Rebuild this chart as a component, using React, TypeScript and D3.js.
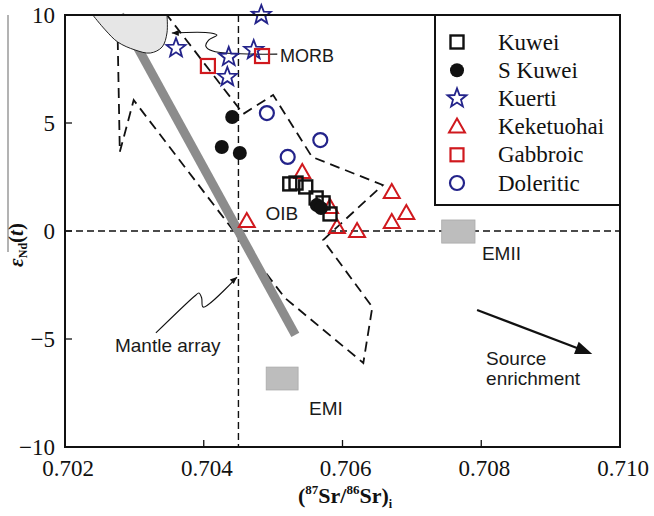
import React from "react";
import * as d3 from "d3";

// ---------- data ----------
const xDomain = [0.702, 0.71];
const yDomain = [-10, 10];
const xTicks = [0.702, 0.704, 0.706, 0.708, 0.71];
const xTickLabels = ["0.702", "0.704", "0.706", "0.708", "0.710"];
const yTicks = [10, 5, 0, -5, -10];
const yTickLabels = ["10", "5", "0", "\u22125", "\u221210"];

const kuwei: [number, number][] = [
  [0.70524, 2.18], [0.70533, 2.22], [0.70547, 2.04], [0.70562, 1.53], [0.70572, 1.3], [0.70582, 0.79],
];
const sKuwei: [number, number][] = [
  [0.70441, 5.28], [0.70426, 3.89], [0.70452, 3.61], [0.70563, 1.2], [0.70569, 1.06],
];
const kuerti: [number, number][] = [
  [0.7036, 8.47], [0.70436, 8.06], [0.70434, 7.13], [0.70483, 10.0], [0.70472, 8.38],
];
const keketuohai: [number, number][] = [
  [0.70462, 0.42], [0.70542, 2.69], [0.70582, 1.06], [0.70592, 0.14], [0.70621, -0.05],
  [0.70671, 1.76], [0.70692, 0.79], [0.70671, 0.37],
];
const gabbroic: [number, number][] = [[0.70406, 7.64], [0.70484, 8.1]];
const doleritic: [number, number][] = [[0.70491, 5.46], [0.70521, 3.43], [0.70568, 4.21]];

const legendNames = ["Kuwei", "S Kuwei", "Kuerti", "Keketuohai", "Gabbroic", "Doleritic"];

// reference lines / fields (data units)
const refSr = 0.7045;
const refEps = 0;
const mantleArray: [number, number][] = [[0.70279, 10.0], [0.70532, -4.81]];
const morbField: [number, number][] = [
  [0.7024, 10.0], [0.70258, 9.31], [0.70276, 8.75], [0.70301, 8.38], [0.70323, 8.24],
  [0.7034, 8.52], [0.70347, 9.17], [0.70347, 10.0],
];
const envelope: [number, number][] = [
  [0.70276, 8.84], [0.70279, 3.66], [0.70299, 6.06], [0.70517, -3.1], [0.7063, -6.11],
  [0.70643, -3.52], [0.70572, -0.42], [0.70658, 2.13], [0.70556, 3.43], [0.705, 6.3],
  [0.70457, 5.42], [0.70347, 10.0],
];
const emI = { x0: 0.7049, x1: 0.70536, y0: -6.3, y1: -7.36 };
const emII = { x0: 0.70743, x1: 0.70791, y0: 0.51, y1: -0.56 };
const morbLeader: [number, number][] = [
  [0.70506, 8.19], [0.70413, 8.33], [0.70403, 8.56], [0.70407, 8.84], [0.70419, 9.07],
  [0.7041, 9.17], [0.70354, 9.17],
];
const mantleLeader: [number, number][] = [
  [0.70331, -4.72], [0.70387, -3.01], [0.70393, -2.87], [0.70397, -3.1], [0.70399, -3.52],
  [0.70448, -2.13],
];
const sourceArrow: [number, number][] = [[0.70794, -3.66], [0.7096, -5.69]];

// ---------- layout ----------
const W = 654;
const H = 516;
const x = d3.scaleLinear().domain(xDomain).range([65, 620]);
const y = d3.scaleLinear().domain(yDomain).range([447, 15]);

const NAVY = "#23238a";
const RED = "#d0191e";
const SERIF = "'Liberation Serif', 'Times New Roman', serif";
const SANS = "'Liberation Sans', Arial, sans-serif";

function starPath(R: number, r: number) {
  const pts: [number, number][] = [];
  for (let i = 0; i < 10; i++) {
    const a = -Math.PI / 2 + (i * Math.PI) / 5;
    const rr = i % 2 === 0 ? R : r;
    pts.push([rr * Math.cos(a), rr * Math.sin(a)]);
  }
  return "M" + pts.map((p) => p.join(",")).join("L") + "Z";
}
const STAR = starPath(10, 4.2);
const TRI = "M0,-9L8,5L-8,5Z";

function arrowHead(p0: [number, number], p1: [number, number], len: number, half: number) {
  const dx = p1[0] - p0[0];
  const dy = p1[1] - p0[1];
  const L = Math.hypot(dx, dy);
  const ux = dx / L, uy = dy / L;
  const bx = p1[0] - ux * len, by = p1[1] - uy * len;
  return `M${p1[0]},${p1[1]}L${bx - uy * half},${by + ux * half}L${bx + uy * half},${by - ux * half}Z`;
}

const toPx = (d: [number, number]): [number, number] => [x(d[0]), y(d[1])];

export default function App() {
  const line = d3.line<[number, number]>().x((d) => x(d[0])).y((d) => y(d[1]));
  const curved = d3
    .line<[number, number]>()
    .x((d) => x(d[0]))
    .y((d) => y(d[1]))
    .curve(d3.curveCatmullRom);

  const ml = morbLeader.map(toPx);
  const mtl = mantleLeader.map(toPx);
  const sa = sourceArrow.map(toPx);

  const legendX = 435, legendY = 15, legendW = 185, legendH = 190;
  const rowY = (i: number) => 42 + i * 28.2;

  const legendMarker = (i: number) => {
    const cx = 457, cy = rowY(i);
    switch (i) {
      case 0:
        return <rect x={cx - 6.5} y={cy - 6.5} width={13} height={13} fill="none" stroke="#111" strokeWidth={2.4} />;
      case 1:
        return <circle cx={cx} cy={cy} r={7} fill="#111" />;
      case 2:
        return <path d={STAR} transform={`translate(${cx},${cy})`} fill="none" stroke={NAVY} strokeWidth={1.8} />;
      case 3:
        return <path d={TRI} transform={`translate(${cx},${cy + 1})`} fill="none" stroke={RED} strokeWidth={2} />;
      case 4:
        return <rect x={cx - 6.5} y={cy - 6.5} width={13} height={13} fill="none" stroke={RED} strokeWidth={2.2} />;
      default:
        return <circle cx={cx} cy={cy} r={7} fill="none" stroke={NAVY} strokeWidth={2.2} />;
    }
  };

  return (
    <svg width={W} height={H} style={{ position: "absolute", left: 0, top: 0, background: "#fff" }}>
      {/* stray gray line at far left */}
      <line x1={8} x2={8} y1={15} y2={252} stroke="#9a9a9a" strokeWidth={1.5} />

      {/* reference dashed lines */}
      <line x1={x(xDomain[0])} x2={x(xDomain[1])} y1={y(refEps)} y2={y(refEps)} stroke="#111" strokeWidth={1.4} strokeDasharray="7,4" />
      <line x1={x(refSr)} x2={x(refSr)} y1={y(yDomain[1])} y2={y(yDomain[0])} stroke="#111" strokeWidth={1.4} strokeDasharray="7,4" />

      {/* envelope */}
      <path d={line(envelope) || ""} fill="none" stroke="#111" strokeWidth={1.8} strokeDasharray="10,6" />

      {/* mantle array band */}
      <path d={line(mantleArray) || ""} stroke="#8c8c8c" strokeWidth={9} fill="none" />

      {/* MORB field */}
      <path d={(curved(morbField) || "") + "Z"} fill="#e6e6e6" stroke="#222" strokeWidth={1} />
      <line x1={x(morbField[0][0])} x2={x(morbField[morbField.length - 1][0])} y1={y(10)} y2={y(10)} stroke="#e6e6e6" strokeWidth={1} />

      {/* EM boxes */}
      <rect x={x(emI.x0)} y={y(emI.y0)} width={x(emI.x1) - x(emI.x0)} height={y(emI.y1) - y(emI.y0)} fill="#bdbdbd" stroke="#aaa" strokeWidth={0.8} />
      <rect x={x(emII.x0)} y={y(emII.y0)} width={x(emII.x1) - x(emII.x0)} height={y(emII.y1) - y(emII.y0)} fill="#bdbdbd" stroke="#aaa" strokeWidth={0.8} />

      {/* leaders */}
      <path d={curved(morbLeader) || ""} fill="none" stroke="#111" strokeWidth={1.1} />
      <path d={arrowHead(ml[ml.length - 2], ml[ml.length - 1], 7, 3)} fill="#111" />
      <path d={curved(mantleLeader) || ""} fill="none" stroke="#111" strokeWidth={1.1} />
      <path d={arrowHead(mtl[mtl.length - 2], mtl[mtl.length - 1], 7, 3)} fill="#111" />
      <line x1={sa[0][0]} y1={sa[0][1]} x2={sa[1][0] - 10} y2={sa[1][1] - 4} stroke="#111" strokeWidth={2.2} />
      <path d={arrowHead(sa[0], sa[1], 17, 6.5)} fill="#111" />

      {/* annotation text */}
      <g fontFamily={SANS} fill="#1a1a1a" fontSize={19}>
        <text x={x(0.7051)} y={y(7.82)} fontSize={18}>MORB</text>
        <text x={x(0.70489)} y={y(0.5)}>OIB</text>
        <text x={x(0.70272)} y={y(-5.6)}>Mantle array</text>
        <text x={x(0.70576)} y={y(-8.5)} textAnchor="middle">EMI</text>
        <text x={x(0.70801)} y={y(-1.34)}>EMII</text>
        <text x={x(0.70807)} y={y(-6.2)}>Source</text>
        <text x={x(0.70807)} y={y(-7.13)}>enrichment</text>
      </g>

      {/* data points */}
      <g>
        {keketuohai.map((d, i) => (
          <path key={"t" + i} d={TRI} transform={`translate(${x(d[0])},${y(d[1])})`} fill="none" stroke={RED} strokeWidth={2} />
        ))}
        {doleritic.map((d, i) => (
          <circle key={"c" + i} cx={x(d[0])} cy={y(d[1])} r={7} fill="none" stroke={NAVY} strokeWidth={2.2} />
        ))}
        {kuerti.map((d, i) => (
          <path key={"s" + i} d={STAR} transform={`translate(${x(d[0])},${y(d[1])})`} fill="none" stroke={NAVY} strokeWidth={1.8} />
        ))}
        {gabbroic.map((d, i) => (
          <rect key={"g" + i} x={x(d[0]) - 7} y={y(d[1]) - 7} width={14} height={14} fill="none" stroke={RED} strokeWidth={2.2} />
        ))}
        {kuwei.map((d, i) => (
          <rect key={"k" + i} x={x(d[0]) - 6.5} y={y(d[1]) - 6.5} width={13} height={13} fill="none" stroke="#111" strokeWidth={2.4} />
        ))}
        {sKuwei.map((d, i) => (
          <circle key={"f" + i} cx={x(d[0])} cy={y(d[1])} r={7} fill="#111" />
        ))}
      </g>

      {/* legend */}
      <rect x={legendX} y={legendY} width={legendW} height={legendH} fill="#fff" stroke="#111" strokeWidth={2} />
      {legendNames.map((n, i) => (
        <g key={n}>
          {legendMarker(i)}
          <text x={498} y={rowY(i) + 7.5} fontFamily={SERIF} fontSize={23} fill="#111">{n}</text>
        </g>
      ))}

      {/* frame */}
      <rect x={x(xDomain[0])} y={y(yDomain[1])} width={x(xDomain[1]) - x(xDomain[0])} height={y(yDomain[0]) - y(yDomain[1])} fill="none" stroke="#111" strokeWidth={2} />

      {/* ticks */}
      {xTicks.slice(1, -1).map((t) => (
        <line key={"xt" + t} x1={x(t)} x2={x(t)} y1={y(-10)} y2={y(-10) - 7} stroke="#111" strokeWidth={1.3} />
      ))}
      {yTicks.slice(1, -1).map((t) => (
        <line key={"yt" + t} x1={x(0.702)} x2={x(0.702) + 7} y1={y(t)} y2={y(t)} stroke="#111" strokeWidth={1.3} />
      ))}

      {/* tick labels */}
      <g fontFamily={SERIF} fontSize={23} fill="#111">
        {xTicks.map((t, i) => (
          <text key={"xl" + t} x={x(t) + 3} y={476} textAnchor="middle">{xTickLabels[i]}</text>
        ))}
        {yTicks.map((t, i) => (
          <text key={"yl" + t} x={55} y={y(t) + 8} textAnchor="end">{yTickLabels[i]}</text>
        ))}
      </g>

      {/* axis titles */}
      <text x={345} y={503} textAnchor="middle" fontFamily={SERIF} fontWeight="bold" fontSize={22} fill="#111">
        (<tspan fontSize={13} dy={-9}>87</tspan>
        <tspan dy={9}>Sr/</tspan>
        <tspan fontSize={13} dy={-9}>86</tspan>
        <tspan dy={9}>Sr)</tspan>
        <tspan fontSize={12} dy={5}>i</tspan>
      </text>
      <text transform={`translate(23,${245}) rotate(-90)`} textAnchor="middle" fontFamily={SERIF} fontWeight="bold" fontSize={21} fill="#111">
        <tspan fontStyle="italic">ε</tspan>
        <tspan fontSize={12} dy={4}>Nd</tspan>
        <tspan dy={-4}>(</tspan>
        <tspan fontStyle="italic">t</tspan>
        <tspan>)</tspan>
      </text>
    </svg>
  );
}
